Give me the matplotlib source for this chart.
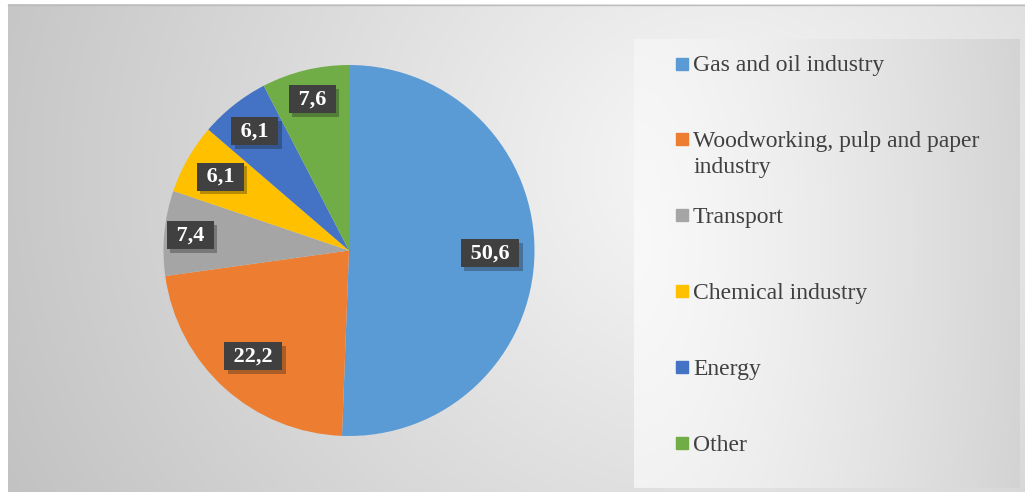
import numpy as np
import matplotlib.pyplot as plt
import matplotlib.patheffects as pe
from matplotlib.patches import Rectangle

# data
categories = ['Gas and oil industry', 'Woodworking, pulp and paper\nindustry',
              'Transport', 'Chemical industry', 'Energy', 'Other']
values = [50.6, 22.2, 7.4, 6.1, 6.1, 7.6]
value_labels = ['50,6', '22,2', '7,4', '6,1', '6,1', '7,6']
colors = ['#5B9BD5', '#ED7D31', '#A5A5A5', '#FFC000', '#4472C4', '#70AD47']

# how far out each data label sits (fraction of radius)
label_dist = [0.76, 0.77, 0.86, 0.80, 0.82, 0.84]

W, H = 1025, 492
fig = plt.figure(figsize=(W / 100, H / 100), dpi=100)
fig.patch.set_facecolor('white')

# background axes in pixel coordinates
bg = fig.add_axes([0, 0, 1, 1])
bg.set_xlim(0, W)
bg.set_ylim(H, 0)
bg.axis('off')

# radial gray gradient for chart area
xx, yy = np.meshgrid(np.linspace(8, W, 400), np.linspace(4, H, 200))
d = np.hypot(xx - 720, (yy - 170) * 1.1)
g = np.clip(0.975 - 0.21 * d / 780, 0.76, 1)
bg.imshow(np.dstack([g, g, g]), extent=(8, W, H, 4), aspect='auto',
          interpolation='bilinear', zorder=0)
bg.plot([8, W], [4.5, 4.5], color='#bdbdbd', lw=1, zorder=1)

# legend panel gradient
lx, ly = np.meshgrid(np.linspace(0, 1, 200), np.linspace(0, 1, 200))
lg = np.clip(0.975 - 0.14 * np.hypot(lx * 1.0, (ly - 0.45) * 0.5) ** 1.3, 0.8, 1)
bg.imshow(np.dstack([lg, lg, lg]), extent=(634, 1020, 488, 39), aspect='auto',
          interpolation='bilinear', zorder=1)

# legend entries
y0, step = 63.5, 75.9
for i, (lab, c) in enumerate(zip(categories, colors)):
    yc = y0 + i * step
    bg.add_patch(Rectangle((676, yc - 6), 12, 12, color=c, zorder=3))
    for k, line in enumerate(lab.split('\n')):
        bg.text(693, yc + 8 + k * 26, line, fontsize=17, family='Liberation Serif',
                color='#404040', va='baseline', ha='left', zorder=3)

# pie
cx, cy, r = 349, 250.5, 185.5
ax = fig.add_axes([(cx - r) / W, (H - cy - r) / H, 2 * r / W, 2 * r / H])
wedges, _ = ax.pie(values, colors=colors, startangle=90, counterclock=False,
                   radius=1, wedgeprops=dict(linewidth=0))
ax.set_xlim(-1, 1)
ax.set_ylim(-1, 1)
ax.axis('off')

for w, lab, dist in zip(wedges, value_labels, label_dist):
    ang = np.deg2rad((w.theta1 + w.theta2) / 2)
    t = ax.text(dist * np.cos(ang), dist * np.sin(ang), ' ' + lab + ' ',
                ha='center', va='center', fontsize=16, fontweight='bold',
                family='Liberation Serif', color='white',
                bbox=dict(boxstyle='square,pad=0.18', fc='#404040', ec='none'))
    t.get_bbox_patch().set_path_effects(
        [pe.SimplePatchShadow(offset=(2.5, -2.5), alpha=0.3), pe.Normal()])

fig.savefig('out.png', dpi=100)
